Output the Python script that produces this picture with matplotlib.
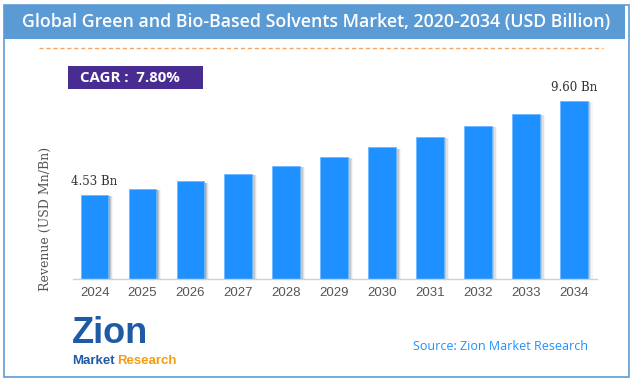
import matplotlib
matplotlib.use("Agg")
import matplotlib.pyplot as plt
from matplotlib.patches import Rectangle

years = ["2024", "2025", "2026", "2027", "2028", "2029", "2030", "2031", "2032", "2033", "2034"]
values = [4.53, 4.88, 5.26, 5.68, 6.12, 6.59, 7.10, 7.66, 8.26, 8.90, 9.60]
value_labels = {0: "4.53 Bn", 10: "9.60 Bn"}
title = "Global Green and Bio-Based Solvents Market, 2020-2034 (USD Billion)"
cagr_text = "CAGR :  7.80%"
ylabel = "Revenue (USD Mn/Bn)"
source = "Source: Zion Market Research"

W, H = 634, 381
fig = plt.figure(figsize=(W / 100, H / 100), dpi=100)
fig.patch.set_facecolor("white")

def fx(px):
    return px / W

def fy(py):
    return 1 - py / H

# outer border
fig.patches.append(Rectangle((fx(4), fy(377)), fx(625), (377 - 5) / H, transform=fig.transFigure,
                             facecolor="none", edgecolor="#5B9BD5", linewidth=1.2, zorder=0))
# title band
fig.patches.append(Rectangle((fx(4), fy(39)), fx(621), (39 - 5) / H, transform=fig.transFigure,
                             facecolor="#5B9BD5", edgecolor="none", zorder=1))
fig.text(fx(316.5), fy(22), title, color="white", fontsize=12.75, fontweight="semibold",
         family="Open Sans", ha="center", va="center")

# dashed line
fig.add_artist(plt.Line2D([fx(39), fx(603)], [fy(48), fy(48)], transform=fig.transFigure,
                          color="#F4A460", linewidth=1.0, linestyle=(0, (3, 2))))

# CAGR box
fig.patches.append(Rectangle((fx(68), fy(89)), fx(203 - 68), (89 - 66) / H, transform=fig.transFigure,
                             facecolor="#482C91", edgecolor="none", zorder=1))
fig.text(fx(80), fy(77.5), cagr_text, color="white", fontsize=10.8, fontweight="bold",
         family="Open Sans", ha="left", va="center")

# axes
ax = fig.add_axes([fx(73), fy(279), fx(597 - 73), (279 - 90) / H])
x = list(range(len(years)))
bw = 0.58
for i, a in enumerate([0.25, 0.18, 0.12, 0.06]):
    d = 0.025 * (i + 1)
    ax.bar([xi + d for xi in x], [v - 0.08 for v in values], width=bw, color="#555555",
           alpha=a, zorder=1, linewidth=0)
ax.bar(x, values, width=bw, color="#1E90FF", edgecolor="#6FB6FF", linewidth=0.6, zorder=2)
for i, lab in value_labels.items():
    ax.annotate(lab, (x[i], values[i]), xytext=(0, 5), textcoords="offset points",
                ha="center", va="bottom", family="DejaVu Serif", fontsize=8.5, color="#333333")
ax.set_xlim(-0.45, 10.48)
ax.set_ylim(0, (279 - 90) / 18.54)
ax.set_xticks(x)
ax.set_xticklabels(years, family="Liberation Sans", fontsize=9.5, color="#555555")
ax.tick_params(axis="x", length=0, pad=6)
ax.set_yticks([])
for s in ["top", "right", "left"]:
    ax.spines[s].set_visible(False)
ax.spines["bottom"].set_color("#D0D0D0")
ax.spines["bottom"].set_linewidth(1.0)
ax.patch.set_alpha(0)

fig.text(fx(45), fy(219), ylabel, rotation=90, family="DejaVu Serif", fontsize=9,
         color="#555555", ha="center", va="center")

# logo approximation
fig.text(fx(72), fy(343), "Zion", family="Liberation Sans", fontweight="bold", fontsize=26,
         color="#1F5AA6", ha="left", va="baseline")
fig.text(fx(72), fy(364), "Market", family="Liberation Sans", fontweight="bold", fontsize=9.5,
         color="#1F5AA6", ha="left", va="baseline")
fig.text(fx(117), fy(364), "Research", family="Liberation Sans", fontweight="bold", fontsize=9.5,
         color="#F39C12", ha="left", va="baseline")

fig.text(fx(413), fy(346), source, family="Open Sans", fontsize=9, color="#1E90FF",
         ha="left", va="center")

fig.savefig("out.png", dpi=100)
